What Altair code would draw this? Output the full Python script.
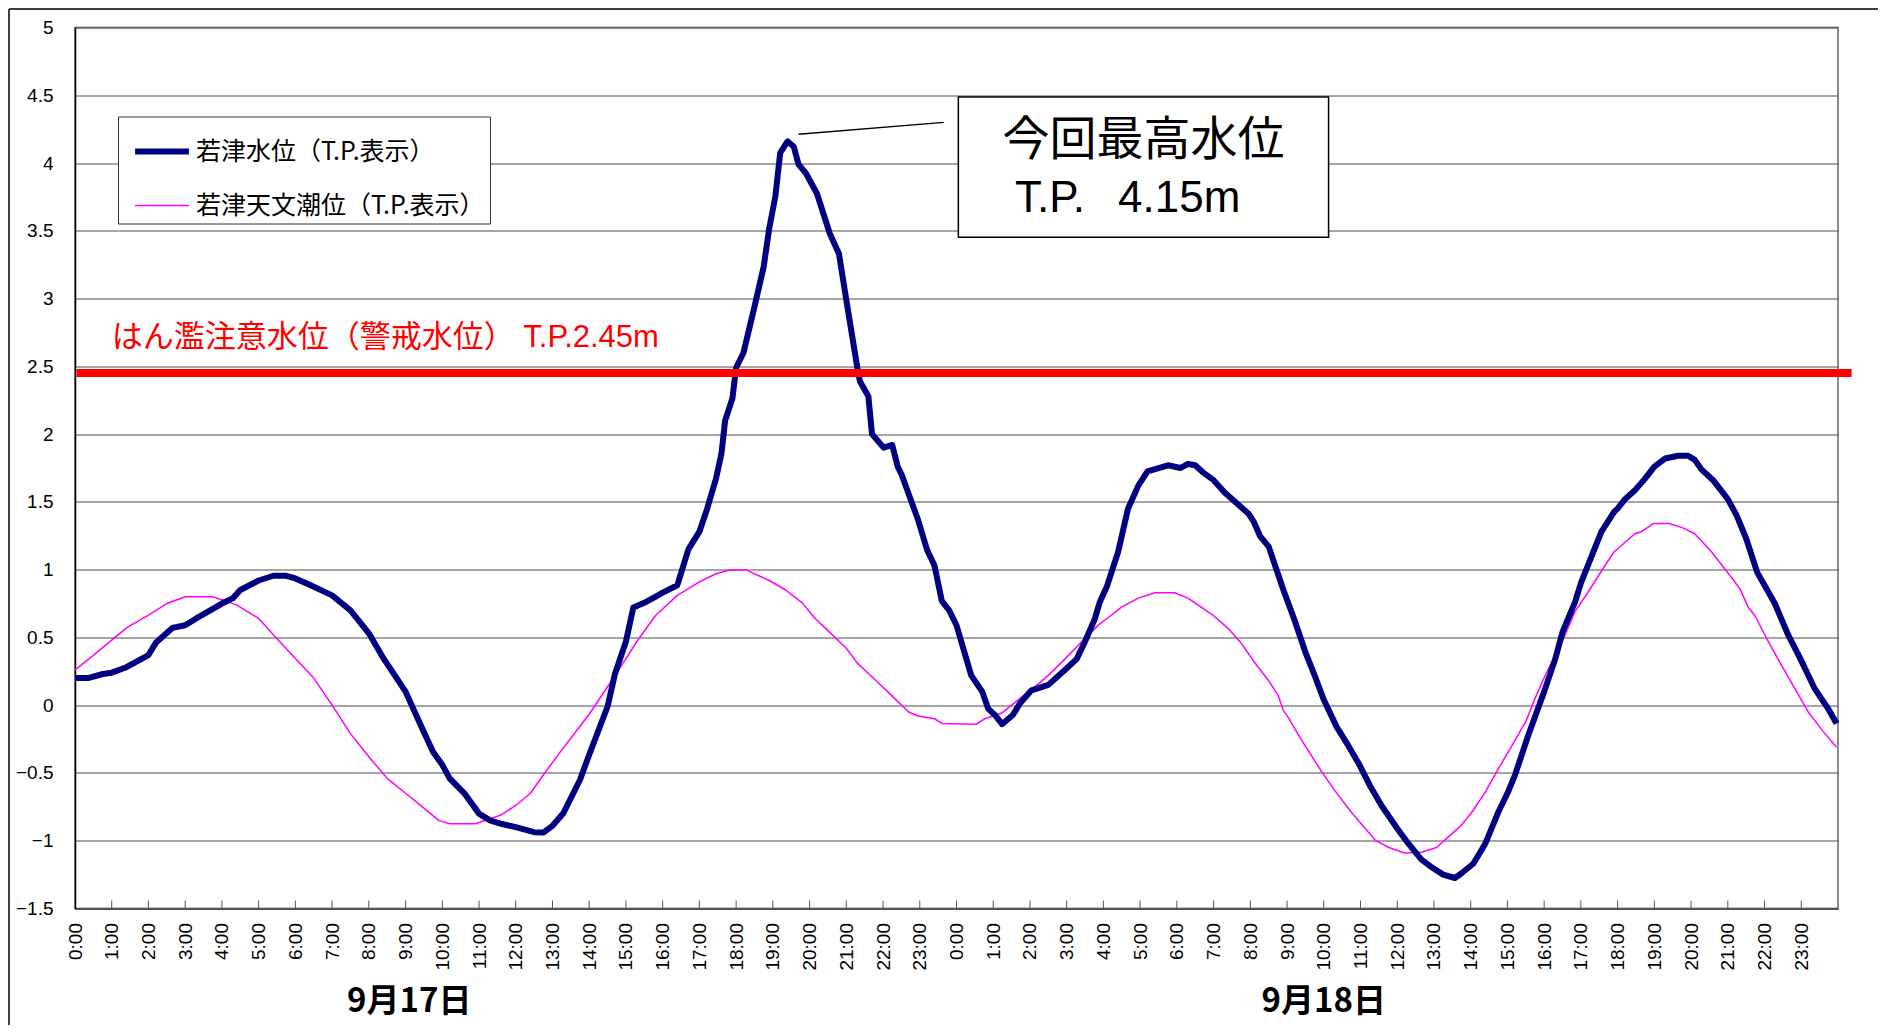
import altair as alt
import pandas as pd

S1 = "若津水位（T.P.表示）"
S2 = "若津天文潮位（T.P.表示）"

hours_level = [0, 0.35, 0.76, 1.0, 1.4, 2.0, 2.2, 2.65, 3.0, 3.3, 4.0, 4.3, 4.5, 5.0, 5.4, 5.75, 6.0, 6.4, 7.0, 7.5,
               8.0, 8.4, 9.0, 9.5, 9.75, 10.0, 10.2, 10.6, 11.0, 11.3, 11.6, 12.0, 12.5, 12.75, 13.0, 13.3, 13.75,
               14.0, 14.5, 14.7, 15.0, 15.2, 15.5, 15.8, 16.0, 16.4, 16.7, 17.0, 17.2, 17.45, 17.6, 17.7, 17.9,
               18.0, 18.2, 18.5, 18.75, 18.9, 19.07, 19.2, 19.4, 19.57, 19.7, 19.9, 20.2, 20.55, 20.8, 21.0, 21.3,
               21.37, 21.6, 21.7, 22.02, 22.25, 22.4, 22.5, 22.7, 22.95, 23.2, 23.4, 23.6, 23.8, 24.0, 24.2, 24.4,
               24.7, 24.86, 25.04, 25.24, 25.54, 25.72, 26.04, 26.5, 26.95, 27.27, 27.5, 27.77, 27.9, 28.1, 28.4,
               28.67, 28.95, 29.2, 29.76, 30.1, 30.3, 30.5, 30.7, 31.0, 31.3, 31.96, 32.1, 32.26, 32.5, 32.7, 32.9,
               33.2, 33.5, 33.75, 34.0, 34.35, 34.66, 34.97, 35.25, 35.57, 36.0, 36.3, 36.66, 36.96, 37.25, 37.57,
               37.75, 38.07, 38.4, 38.75, 39.0, 39.2, 39.57, 40.0, 40.3, 40.5, 40.84, 41.0, 41.3, 41.56, 41.9, 42.0,
               42.2, 42.47, 42.74, 43.0, 43.29, 43.65, 43.92, 44.1, 44.28, 44.6, 45.0, 45.24, 45.5, 45.8, 46.28,
               46.64, 46.98, 47.37, 47.73, 47.96]
level = [0.20, 0.20, 0.23, 0.24, 0.28, 0.37, 0.46, 0.57, 0.59, 0.64, 0.75, 0.79, 0.85, 0.92, 0.955, 0.955, 0.935,
         0.886, 0.81, 0.70, 0.53, 0.345, 0.10, -0.20, -0.345, -0.44, -0.54, -0.65, -0.80, -0.85, -0.875, -0.90,
         -0.937, -0.94, -0.89, -0.795, -0.55, -0.365, -0.01, 0.23, 0.47, 0.72, 0.755, 0.80, 0.83, 0.885, 1.15, 1.28,
         1.44, 1.67, 1.855, 2.10, 2.265, 2.49, 2.60, 2.94, 3.235, 3.515, 3.757, 4.075, 4.16, 4.12, 3.99, 3.925,
         3.775, 3.48, 3.33, 2.99, 2.49, 2.39, 2.28, 2.00, 1.90, 1.92, 1.76, 1.705, 1.556, 1.37, 1.145, 1.03, 0.77,
         0.70, 0.59, 0.405, 0.22, 0.10, -0.025, -0.07, -0.14, -0.07, 0.01, 0.11, 0.15, 0.26, 0.34, 0.47, 0.64,
         0.76, 0.88, 1.13, 1.45, 1.62, 1.725, 1.77, 1.75, 1.78, 1.77, 1.72, 1.66, 1.57, 1.41, 1.35, 1.25, 1.17,
         1.01, 0.85, 0.63, 0.39, 0.22, 0.04, -0.16, -0.295, -0.44, -0.59, -0.74, -0.91, -1.02, -1.14, -1.20, -1.25,
         -1.275, -1.24, -1.17, -1.02, -0.79, -0.65, -0.52, -0.22, 0.10, 0.34, 0.54, 0.76, 0.90, 1.105, 1.28, 1.425,
         1.45, 1.52, 1.585, 1.67, 1.76, 1.82, 1.84, 1.84, 1.81, 1.74, 1.66, 1.52, 1.40, 1.23, 0.98, 0.75, 0.52,
         0.34, 0.12, -0.025, -0.135]

hours_tide = [0, 0.4, 1.0, 1.4, 2.0, 2.5, 3.0, 3.75, 4.4, 5.0, 5.5, 6.0, 6.5, 7.0, 7.5, 8.0, 8.5, 9.0, 9.5, 9.9,
              10.2, 10.9, 11.6, 12.0, 12.4, 12.75, 13.2, 14.0, 14.55, 15.0, 15.3, 15.8, 16.4, 17.0, 17.45, 17.8,
              18.25, 18.9, 19.35, 19.8, 20.15, 20.5, 21.0, 21.3, 21.7, 22.2, 22.7, 22.95, 23.4, 23.6, 24.54, 24.77,
              25.22, 25.68, 26.13, 26.5, 26.95, 27.27, 27.6, 27.9, 28.2, 28.5, 28.95, 29.4, 29.94, 30.3, 31.0, 31.4,
              31.76, 32.1, 32.5, 32.76, 32.9, 33.03, 33.4, 33.94, 34.3, 34.75, 35.1, 35.4, 35.77, 36.2, 36.66, 37.07,
              37.4, 37.75, 38.07, 38.4, 38.75, 39.1, 39.5, 39.75, 40.07, 40.47, 40.84, 41.2, 41.56, 41.9, 42.47,
              42.65, 42.97, 43.4, 43.76, 44.1, 44.56, 44.92, 45.33, 45.55, 45.74, 46.1, 46.46, 46.83, 47.19, 47.6,
              47.96]
tide = [0.26, 0.345, 0.48, 0.57, 0.665, 0.75, 0.80, 0.80, 0.74, 0.64, 0.49, 0.345, 0.20, 0.0, -0.21, -0.38, -0.54,
        -0.65, -0.76, -0.85, -0.875, -0.875, -0.81, -0.74, -0.65, -0.515, -0.35, -0.067, 0.157, 0.343, 0.47, 0.66,
        0.81, 0.91, 0.97, 0.996, 1.0, 0.92, 0.85, 0.755, 0.64, 0.55, 0.42, 0.31, 0.21, 0.08, -0.05, -0.08, -0.10,
        -0.135, -0.14, -0.10, -0.06, 0.04, 0.135, 0.22, 0.34, 0.43, 0.52, 0.60, 0.66, 0.725, 0.79, 0.83, 0.83, 0.79,
        0.66, 0.565, 0.455, 0.32, 0.18, 0.07, -0.04, -0.09, -0.26, -0.49, -0.63, -0.79, -0.90, -0.995, -1.05, -1.09,
        -1.085, -1.05, -0.97, -0.885, -0.775, -0.64, -0.47, -0.31, -0.12, 0.05, 0.245, 0.455, 0.69, 0.835, 0.99,
        1.13, 1.265, 1.28, 1.34, 1.34, 1.31, 1.265, 1.13, 1.005, 0.86, 0.725, 0.66, 0.47, 0.295, 0.12, -0.05,
        -0.195, -0.31]

axis_hours = list(range(0, 48))
tick_hours = list(range(1, 48))
y_ticks = [-1.5, -1, -0.5, 0, 0.5, 1, 1.5, 2, 2.5, 3, 3.5, 4, 4.5, 5]

warn_level = 2.45
warn_text = "はん濫注意水位（警戒水位） T.P.2.45m"
warn_text_pos = (1.0, 2.64)
warn_span = (0.04, 48.37)

peak_text1 = "今回最高水位"
peak_text2 = "T.P.\u2002\u20054.15m"
peak_box = (24.05, 34.13, 4.487, 3.453)
peak_text1_pos = (29.09, 4.16)
peak_text2_pos = (28.66, 3.637)
leader = (19.70, 4.213, 23.65, 4.30)

date_labels = ["9月17日", "9月18日"]
date_hours = [9.1, 34.0]

LATIN = "Liberation Sans, Arial, Noto Sans CJK JP"
CJK = "Noto Sans CJK JP"

W, H = 1763, 881

xs = alt.Scale(domain=[0, 48], nice=False, zero=False)
ys = alt.Scale(domain=[-1.5, 5], nice=False, zero=False)
cs = alt.Scale(domain=[S1, S2], range=["#000080", "#FF00FF"])
ws = alt.Scale(domain=[S1, S2], range=[6, 1.5])

leg = alt.Legend(title=None, orient="none", legendX=43, legendY=89, fillColor="white",
                 strokeColor="#333333", padding=5, rowPadding=13, labelFont=CJK, labelFontSize=25,
                 labelLimit=600, labelColor="black", symbolType="stroke", symbolSize=2900,
                 symbolOffset=9, labelOffset=4)

df_level = pd.DataFrame({"h": hours_level, "v": level, "s": S1})
df_tide = pd.DataFrame({"h": hours_tide, "v": tide, "s": S2})

xaxis = alt.Axis(values=axis_hours, labelExpr="(datum.value % 24) + ':00'", grid=False, ticks=False,
                 labelAngle=270, labelFont=LATIN, labelFontSize=19, labelPadding=14, labelColor="black",
                 domainColor="#555555", domainWidth=2, title=None, labelOverlap=False, labelFlush=False)
yaxis = alt.Axis(values=y_ticks, format="~g", grid=True, gridColor="#4d4d4d", gridWidth=1, ticks=False,
                 labelFont=LATIN, labelFontSize=19, labelPadding=22, labelColor="black",
                 domainColor="black", domainWidth=1.5, title=None)

tide_line = alt.Chart(df_tide).mark_line(strokeJoin="round").encode(
    x=alt.X("h:Q", scale=xs, axis=xaxis), y=alt.Y("v:Q", scale=ys, axis=yaxis),
    color=alt.Color("s:N", scale=cs, legend=leg),
    strokeWidth=alt.StrokeWidth("s:N", scale=ws, legend=leg),
    order="h:Q")
level_line = alt.Chart(df_level).mark_line(strokeJoin="round").encode(
    x=alt.X("h:Q", scale=xs, axis=xaxis), y=alt.Y("v:Q", scale=ys, axis=yaxis),
    color=alt.Color("s:N", scale=cs, legend=leg),
    strokeWidth=alt.StrokeWidth("s:N", scale=ws, legend=leg),
    order="h:Q")

warn_rule = alt.Chart(pd.DataFrame({"x": [warn_span[0]], "x2": [warn_span[1]], "y": [warn_level]})).mark_rule(
    color="#FF0000", strokeWidth=8).encode(x=alt.X("x:Q", scale=xs, axis=xaxis), x2="x2:Q",
                                           y=alt.Y("y:Q", scale=ys, axis=yaxis))

warn_label = alt.Chart(pd.DataFrame({"x": [warn_text_pos[0]], "y": [warn_text_pos[1]], "t": [warn_text]})).mark_text(
    align="left", baseline="alphabetic", font=LATIN, fontSize=31, color="#FF0000").encode(
    x=alt.X("x:Q", scale=xs, axis=xaxis), y=alt.Y("y:Q", scale=ys, axis=yaxis), text="t:N")

ticks = alt.Chart(pd.DataFrame({"h": tick_hours})).mark_rule(color="#555555", strokeWidth=1).encode(
    x=alt.X("h:Q", scale=xs, axis=xaxis), y=alt.value(H), y2=alt.value(H - 8))

box = alt.Chart(pd.DataFrame({"x": [peak_box[0]], "x2": [peak_box[1]], "y": [peak_box[2]], "y2": [peak_box[3]]})).mark_rect(
    fill="white", stroke="black", strokeWidth=1.5).encode(
    x=alt.X("x:Q", scale=xs, axis=xaxis), x2="x2:Q", y=alt.Y("y:Q", scale=ys, axis=yaxis), y2="y2:Q")

lead = alt.Chart(pd.DataFrame({"x": [leader[0]], "y": [leader[1]], "x2": [leader[2]], "y2": [leader[3]]})).mark_rule(
    color="black", strokeWidth=1.5).encode(
    x=alt.X("x:Q", scale=xs, axis=xaxis), y=alt.Y("y:Q", scale=ys, axis=yaxis), x2="x2:Q", y2="y2:Q")

pt1 = alt.Chart(pd.DataFrame({"x": [peak_text1_pos[0]], "y": [peak_text1_pos[1]], "t": [peak_text1]})).mark_text(
    align="center", baseline="middle", font=CJK, fontSize=47, color="black").encode(
    x=alt.X("x:Q", scale=xs, axis=xaxis), y=alt.Y("y:Q", scale=ys, axis=yaxis), text="t:N")
pt2 = alt.Chart(pd.DataFrame({"x": [peak_text2_pos[0]], "y": [peak_text2_pos[1]], "t": [peak_text2]})).mark_text(
    align="center", baseline="alphabetic", font=LATIN, fontSize=44, color="black").encode(
    x=alt.X("x:Q", scale=xs, axis=xaxis), y=alt.Y("y:Q", scale=ys, axis=yaxis), text="t:N")

dates = alt.Chart(pd.DataFrame({"h": date_hours, "t": date_labels})).mark_text(
    align="center", baseline="alphabetic", font=CJK, fontSize=33, fontWeight="bold", color="black").encode(
    x=alt.X("h:Q", scale=xs, axis=xaxis), y=alt.value(984), text="t:N")

frame_df = pd.DataFrame({"a": [0]})
frame_left = alt.Chart(frame_df).mark_rule(color="black", strokeWidth=1.5).encode(
    x=alt.value(-66), y=alt.value(-18.5), y2=alt.value(1000))
frame_top = alt.Chart(frame_df).mark_rule(color="black", strokeWidth=1.5).encode(
    x=alt.value(-66), x2=alt.value(1805), y=alt.value(-18.5))

chart = alt.layer(
    tide_line, level_line, warn_rule, ticks, warn_label, lead, box, pt1, pt2, dates, frame_left, frame_top
).resolve_scale(color="shared", strokeWidth="shared").properties(
    width=W, height=H,
    padding={"left": 67, "top": 19.5, "right": 40, "bottom": 116},
    autosize=alt.AutoSizeParams(type="none"),
    background="white",
).configure_view(stroke="#8c8c8c", strokeWidth=2).configure_axisX(labelOverlap=False)

chart.save("out.html", embed_options={"renderer": "svg", "actions": False})
